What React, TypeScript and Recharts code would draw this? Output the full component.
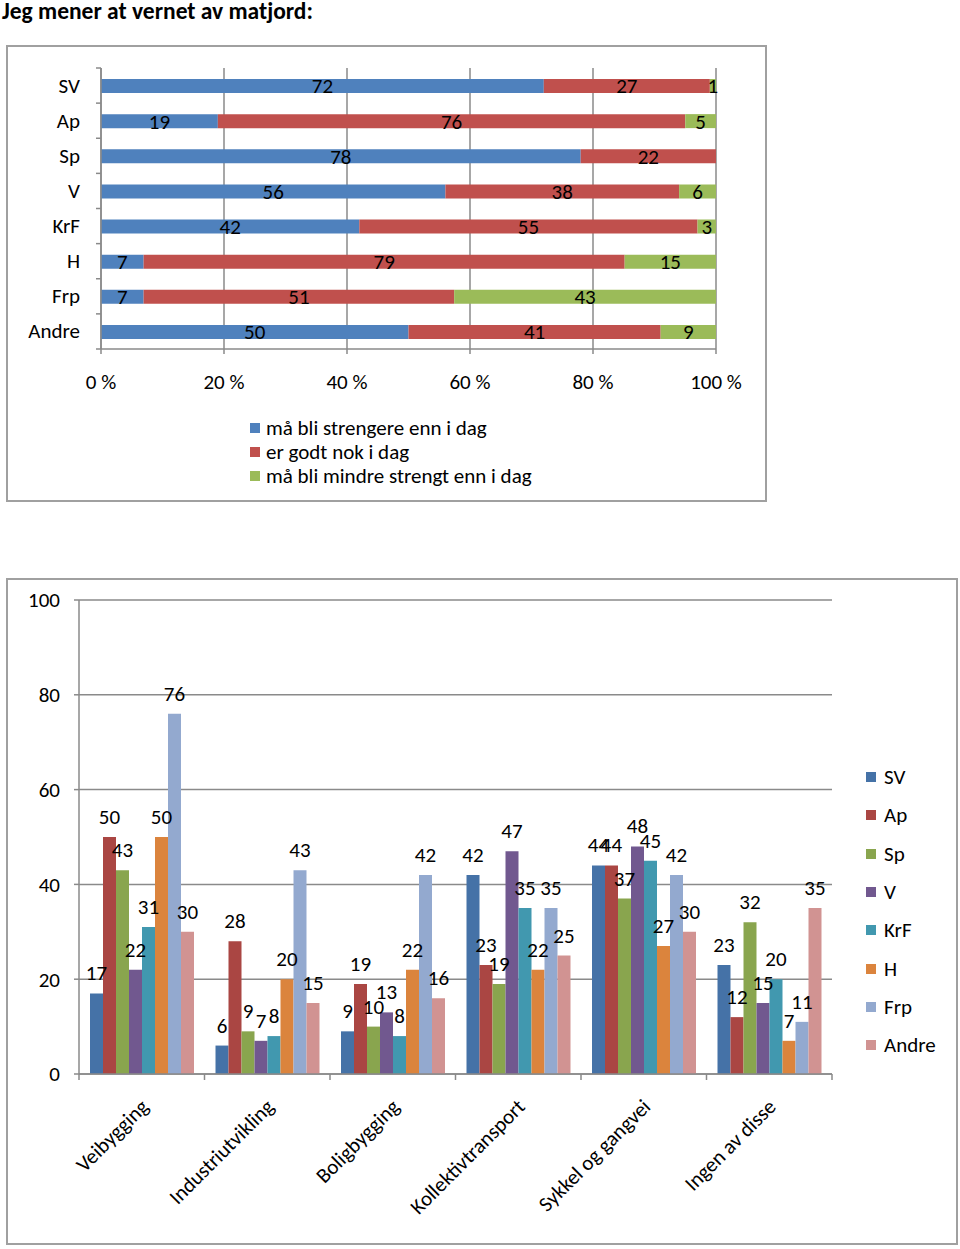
import React from 'react';
import {
  BarChart,
  Bar,
  XAxis,
  YAxis,
  CartesianGrid,
  Legend,
  LabelList,
} from 'recharts';

// top chart: "Jeg mener at vernet av matjord"
const parties = ['SV', 'Ap', 'Sp', 'V', 'KrF', 'H', 'Frp', 'Andre'];
const strengere = [72, 19, 78, 56, 42, 7, 7, 50];
const godtNok = [27, 76, 22, 38, 55, 79, 51, 41];
const mindre = [1, 5, 0, 6, 3, 15, 43, 9];
const percentTicks = [0, 0.2, 0.4, 0.6, 0.8, 1];
const opinionNames = ['må bli strengere enn i dag', 'er godt nok i dag', 'må bli mindre strengt enn i dag'];

// bottom chart: per area, per party
const areas = [
  'Veibygging',
  'Industriutvikling',
  'Boligbygging',
  'Kollektivtransport',
  'Sykkel og gangvei',
  'Ingen av disse',
];
const svVals = [17, 6, 9, 42, 44, 23];
const apVals = [50, 28, 19, 23, 44, 12];
const spVals = [43, 9, 10, 19, 37, 32];
const vVals = [22, 7, 13, 47, 48, 15];
const krfVals = [31, 8, 8, 35, 45, 20];
const hVals = [50, 20, 22, 22, 27, 7];
const frpVals = [76, 43, 42, 35, 42, 11];
const andreVals = [30, 15, 16, 25, 30, 35];
const yTicks = [0, 20, 40, 60, 80, 100];

const FONT = 'Carlito, Lato, sans-serif';
const FS = 21;
const GRID = '#8a8a8a';

const topData = parties.map((p, i) => ({
  party: p,
  strengere: strengere[i],
  godt: godtNok[i],
  mindre: mindre[i],
}));

const partySeries = [
  { key: 'SV', vals: svVals, color: '#4572A7' },
  { key: 'Ap', vals: apVals, color: '#AA4643' },
  { key: 'Sp', vals: spVals, color: '#89A54E' },
  { key: 'V', vals: vVals, color: '#71588F' },
  { key: 'KrF', vals: krfVals, color: '#4198AF' },
  { key: 'H', vals: hVals, color: '#DB843D' },
  { key: 'Frp', vals: frpVals, color: '#93A9CF' },
  { key: 'Andre', vals: andreVals, color: '#D19392' },
];

const bottomData = areas.map((a, i) => {
  const row: Record<string, any> = { area: a };
  partySeries.forEach((s) => (row[s.key] = s.vals[i]));
  return row;
});

// layout
const TOP_W = 761;
const TOP_H = 457;
const TOP_M = { top: 23, right: 51, bottom: 113, left: 0 };
const TOP_YAXIS_W = 95;
const TOP_XAXIS_H = 40;
const topBand = (TOP_H - TOP_M.top - TOP_M.bottom - TOP_XAXIS_H) / parties.length;

const BOT_W = 952;
const BOT_H = 667;
const BOT_M = { top: 22, right: 126, bottom: 51, left: 0 };
const BOT_YAXIS_W = 73;
const BOT_XAXIS_H = 120;
const botBand = (BOT_W - BOT_M.right - BOT_M.left - BOT_YAXIS_W) / areas.length;

const hideZero = (v: any) => (v === 0 ? '' : v);

const PartyTick = (props: any) => {
  const { x, y, payload, index } = props;
  return (
    <g>
      <text x={x - 21} y={y} textAnchor="end" dominantBaseline="central" fontSize={FS} fill="#000" fontFamily={FONT}>
        {payload.value}
      </text>
      {index === 0 && <line x1={x - 5} x2={x} y1={y - topBand / 2} y2={y - topBand / 2} stroke={GRID} strokeWidth={1.5} />}
      <line x1={x - 5} x2={x} y1={y + topBand / 2} y2={y + topBand / 2} stroke={GRID} strokeWidth={1.5} />
    </g>
  );
};

const AreaTick = (props: any) => {
  const { x, y, payload, index } = props;
  const tx = x + 8;
  const ty = y + 34;
  return (
    <g>
      <line x1={x - botBand / 2} x2={x - botBand / 2} y1={y} y2={y + 6} stroke={GRID} strokeWidth={1.5} />
      {index === areas.length - 1 && (
        <line x1={x + botBand / 2} x2={x + botBand / 2} y1={y} y2={y + 6} stroke={GRID} strokeWidth={1.5} />
      )}
      <text x={tx} y={ty} transform={`rotate(-45, ${tx}, ${ty})`} textAnchor="end" fontSize={FS} fill="#000" fontFamily={FONT}>
        {payload.value}
      </text>
    </g>
  );
};

const makeLegend = (order: string[], rowH: number, gap: number) => (props: any) => {
  const items = [...(props.payload || [])].sort((a: any, b: any) => order.indexOf(a.value) - order.indexOf(b.value));
  return (
    <div style={{ fontFamily: FONT, fontSize: FS, color: '#000', whiteSpace: 'nowrap' }}>
      {items.map((e: any) => (
        <div key={e.value} style={{ display: 'flex', alignItems: 'center', height: rowH }}>
          <span style={{ width: 10, height: 10, background: e.color, marginRight: gap, flexShrink: 0 }} />
          <span>{e.value}</span>
        </div>
      ))}
    </div>
  );
};

const TopLegend = makeLegend(opinionNames, 24, 6);
const SideLegend = makeLegend(parties, 38.3, 8);

const boxStyle = (left: number, top: number, w: number, h: number): React.CSSProperties => ({
  position: 'absolute',
  left,
  top,
  width: w,
  height: h,
  border: '2px solid #a0a0a0',
  boxSizing: 'border-box',
});

export default function App() {
  return (
    <div style={{ position: 'absolute', left: 0, top: 0, width: 960, height: 1249, background: '#fff', fontFamily: FONT }}>
      <div
        style={{
          position: 'absolute',
          left: 2,
          top: 0,
          fontSize: 23.5,
          lineHeight: 1,
          fontWeight: 700,
          color: '#000',
          whiteSpace: 'nowrap',
        }}
      >
        Jeg mener at vernet av matjord:
      </div>

      <div style={boxStyle(6, 45, TOP_W, TOP_H)} />
      <div style={{ position: 'absolute', left: 6, top: 45 }}>
        <BarChart
          width={TOP_W}
          height={TOP_H}
          data={topData}
          layout="vertical"
          stackOffset="expand"
          margin={TOP_M}
          barSize={14}
        >
          <CartesianGrid horizontal={false} stroke={GRID} strokeWidth={1.5} />
          <XAxis
            type="number"
            domain={[0, 1]}
            ticks={percentTicks}
            tickFormatter={(v: number) => `${Math.round(v * 100)} %`}
            height={TOP_XAXIS_H}
            stroke={GRID}
            strokeWidth={1.5}
            tickSize={5}
            tickMargin={20}
            tick={{ fill: '#000', fontSize: FS, fontFamily: FONT }}
          />
          <YAxis
            type="category"
            dataKey="party"
            width={TOP_YAXIS_W}
            stroke={GRID}
            strokeWidth={1.5}
            tickLine={false}
            tickSize={0}
            tickMargin={0}
            tick={<PartyTick />}
          />
          <Legend
            layout="vertical"
            align="center"
            verticalAlign="middle"
            wrapperStyle={{ left: 244, top: 371, width: 'auto' }}
            content={<TopLegend />}
          />
          <Bar dataKey="strengere" name={opinionNames[0]} stackId="a" fill="#4F81BD" isAnimationActive={false}>
            <LabelList dataKey="strengere" position="center" fill="#000" fontSize={FS} fontFamily={FONT} formatter={hideZero} />
          </Bar>
          <Bar dataKey="godt" name={opinionNames[1]} stackId="a" fill="#C0504D" isAnimationActive={false}>
            <LabelList dataKey="godt" position="center" fill="#000" fontSize={FS} fontFamily={FONT} formatter={hideZero} />
          </Bar>
          <Bar dataKey="mindre" name={opinionNames[2]} stackId="a" fill="#9BBB59" isAnimationActive={false}>
            <LabelList dataKey="mindre" position="center" fill="#000" fontSize={FS} fontFamily={FONT} formatter={hideZero} />
          </Bar>
        </BarChart>
      </div>

      <div style={boxStyle(6, 578, BOT_W, BOT_H)} />
      <div style={{ position: 'absolute', left: 6, top: 578 }}>
        <BarChart
          width={BOT_W}
          height={BOT_H}
          data={bottomData}
          margin={BOT_M}
          barGap={0}
          barCategoryGap={11}
        >
          <CartesianGrid vertical={false} stroke={GRID} strokeWidth={1.5} />
          <XAxis
            dataKey="area"
            height={BOT_XAXIS_H}
            stroke={GRID}
            strokeWidth={1.5}
            tickLine={false}
            tickSize={0}
            tickMargin={0}
            interval={0}
            tick={<AreaTick />}
          />
          <YAxis
            type="number"
            domain={[0, 100]}
            ticks={yTicks}
            width={BOT_YAXIS_W}
            stroke={GRID}
            strokeWidth={1.5}
            tickSize={5}
            tickMargin={14}
            tick={{ fill: '#000', fontSize: FS, fontFamily: FONT }}
          />
          <Legend
            layout="vertical"
            align="center"
            verticalAlign="middle"
            wrapperStyle={{ left: 860, top: 180, width: 'auto' }}
            content={<SideLegend />}
          />
          {partySeries.map((s) => (
            <Bar key={s.key} dataKey={s.key} name={s.key} fill={s.color} isAnimationActive={false}>
              <LabelList dataKey={s.key} position="top" offset={13} fill="#000" fontSize={FS} fontFamily={FONT} />
            </Bar>
          ))}
        </BarChart>
      </div>
    </div>
  );
}
